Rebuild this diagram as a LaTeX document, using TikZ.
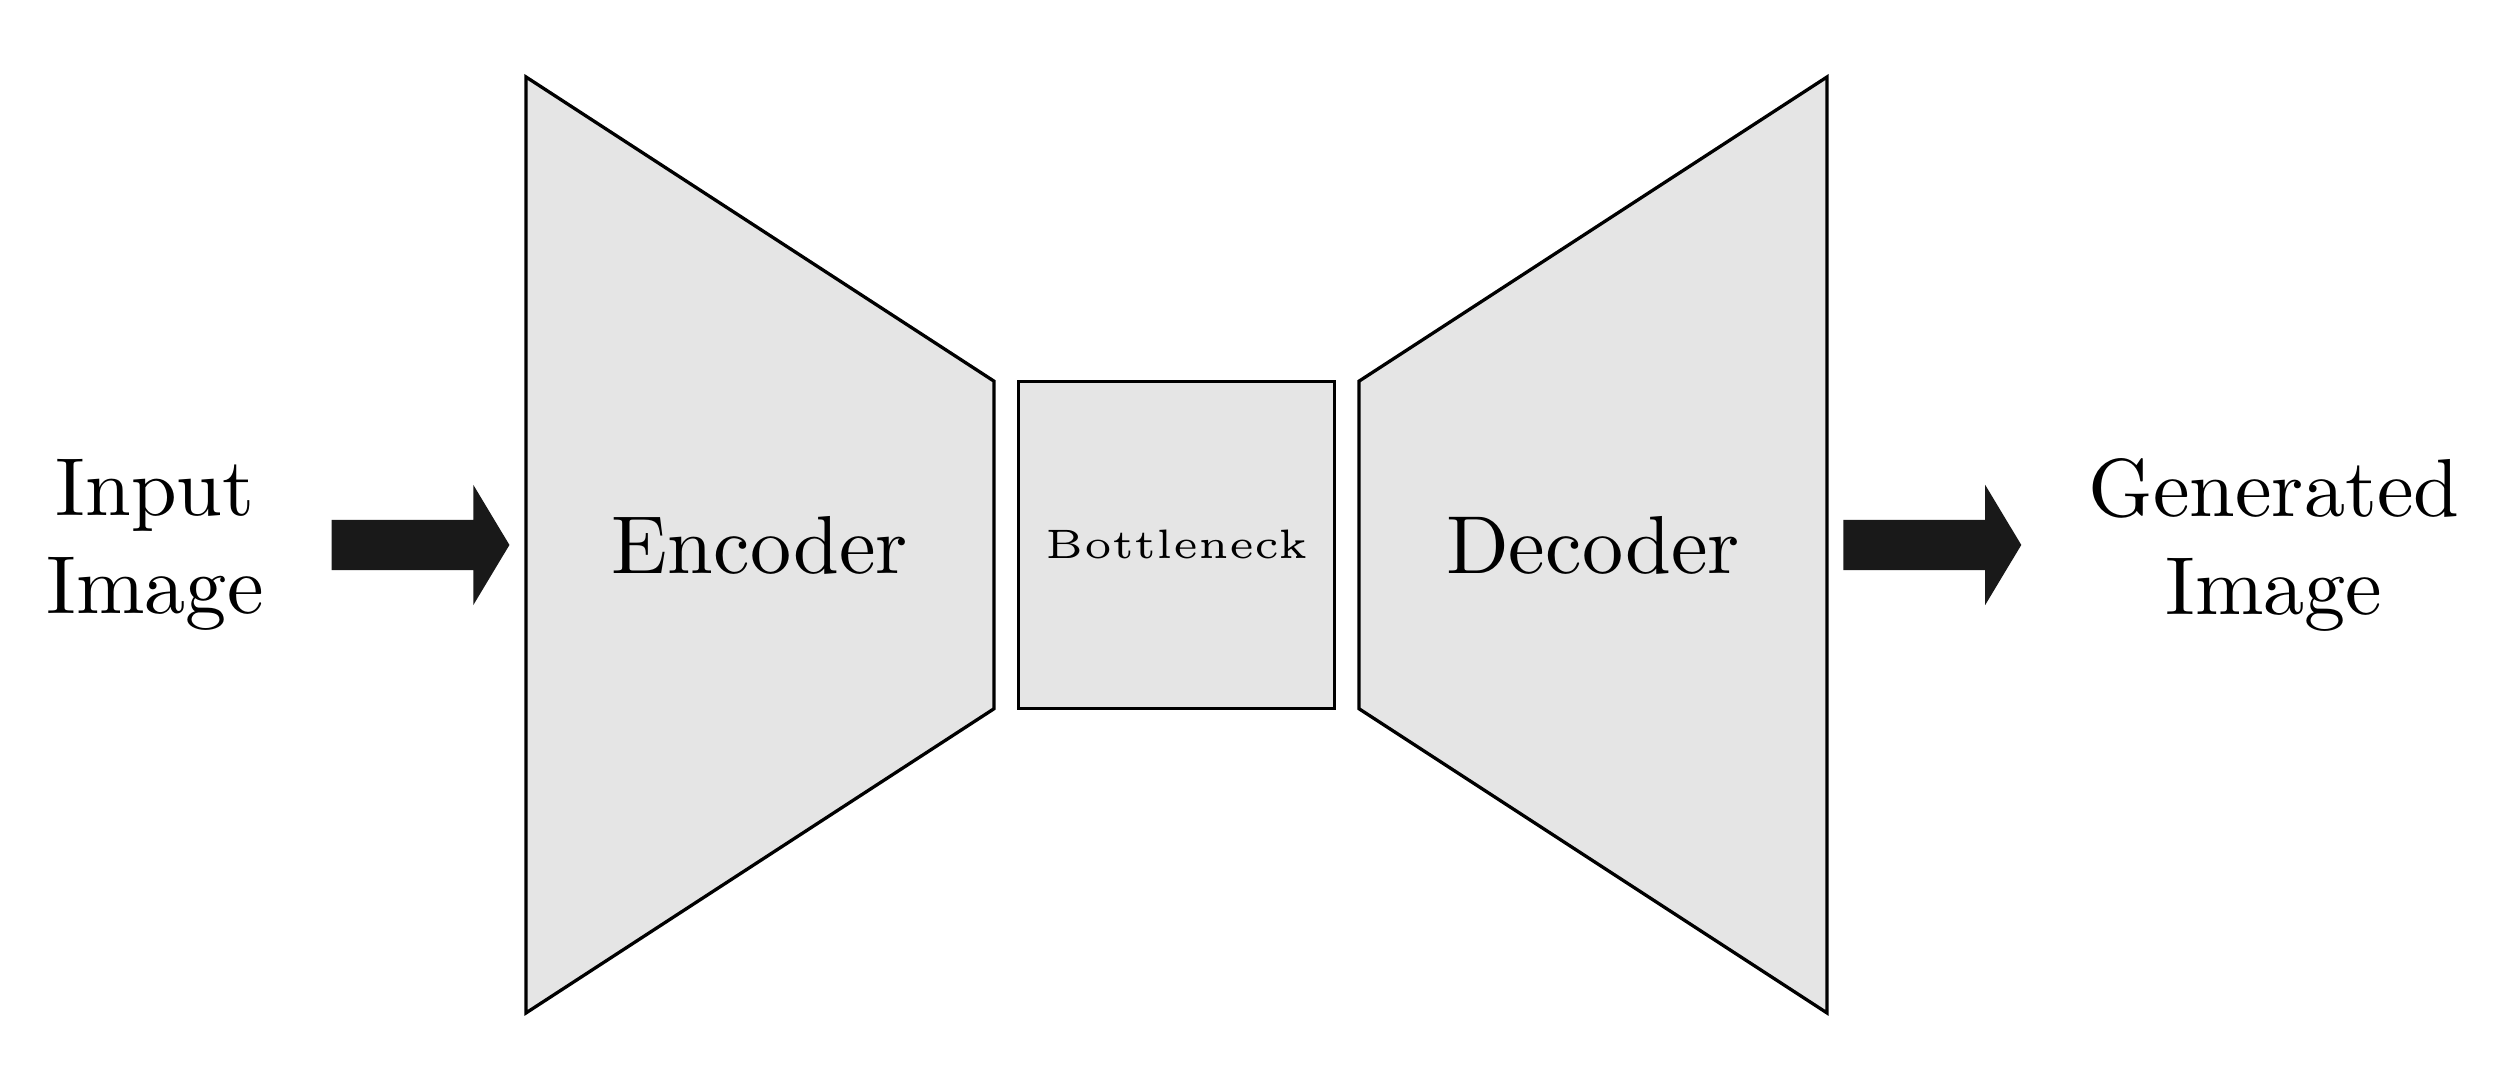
\documentclass[tikz,border=0pt]{standalone}
\usetikzlibrary{shapes.arrows}
\begin{document}
\begin{tikzpicture}
      [block/.style={draw=black, fill=black!10},
       blockarrow/.style={single arrow, fill=black!90, inner sep=0.1cm, outer sep=0pt,
         single arrow head extend=0.15cm, single arrow tip angle=118, minimum height=0.76cm}]
      \useasboundingbox (-5.028,-2.308) rectangle (5.716,2.329);
      % encoder and decoder
      \draw[block] (-2.78,2) -- (-0.78,0.7) -- (-0.78,-0.7) -- (-2.78,-2) -- cycle;
      \draw[block] (2.78,2) -- (0.78,0.7) -- (0.78,-0.7) -- (2.78,-2) -- cycle;
      \node (enc) at (-1.78,0) {Encoder};
      \node (dec) at (1.78,0) {Decoder};
      \node[block, minimum width=1.35cm, minimum height=1.4cm] (bott) at (0,0) {\tiny Bottleneck};
      
      \node[align=center] (in) at (-4.365,0) {Input\\Image};
      \node[align=center] (out) at (4.69,0) {Generated\\Image};
      \node[blockarrow] (inarr) at (-3.263,0) {};
      \node[blockarrow] (outarr) at (3.198,0) {};
    \end{tikzpicture}
\end{document}
